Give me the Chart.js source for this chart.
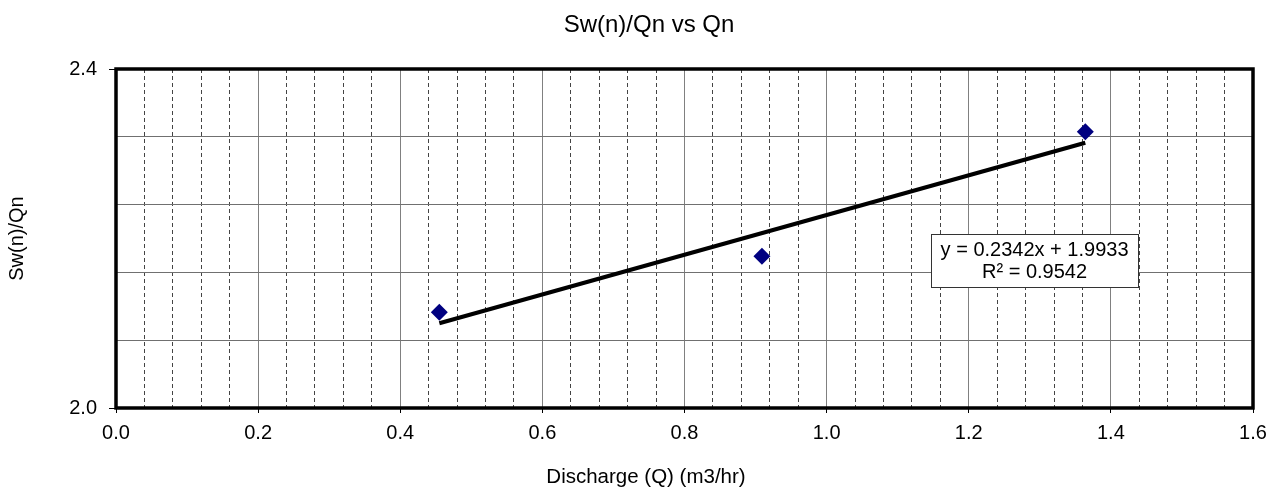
<!DOCTYPE html>
<html>
<head>
<meta charset="utf-8">
<script src="https://cdn.jsdelivr.net/npm/chart.js@4/dist/chart.umd.min.js"></script>
<style>
  html, body { margin: 0; padding: 0; background: #fff; }
  #wrap { width: 1271px; height: 487px; }
</style>
</head>
<body>
<div id="wrap"><canvas id="chart" width="1271" height="487"></canvas></div>
<script>
// data
const qValues = [0.455, 0.909, 1.364];
const swqValues = [2.113, 2.179, 2.326];
const trendX = [0.455, 1.364];
const trendY = [2.100, 2.313];

const xMin = 0, xMax = 1.6, xMinorStep = 0.04, xMajorStep = 0.2;
const yMin = 2.0, yMax = 2.4, yStep = 0.08;
const yLabelValues = [2.0, 2.4];

const chartTitle = 'Sw(n)/Qn vs Qn';
const xTitle = 'Discharge (Q) (m3/hr)';
const yTitle = 'Sw(n)/Qn';
const eqLines = ['y = 0.2342x + 1.9933', 'R\u00b2 = 0.9542'];
const eqAnchor = { x: 1.2926, y: 2.174 };

const FONT = '"Liberation Sans", Arial, sans-serif';

function isMajorX(v) {
    return Math.abs(Math.round(v / xMajorStep) * xMajorStep - v) < 1e-6;
}

// thick frame round the plot area
const plotFrame = {
    id: 'plotFrame',
    beforeDatasetsDraw(chart) {
        const a = chart.chartArea, c = chart.ctx;
        c.save();
        c.strokeStyle = '#000';
        c.lineWidth = 3.5;
        c.strokeRect(a.left, a.top, a.right - a.left, a.bottom - a.top);
        c.restore();
    }
};

// the excel titles sit a bit off the chart-area centre
const titles = {
    id: 'titles',
    afterDraw(chart) {
        const c = chart.ctx;
        c.save();
        c.fillStyle = '#000';
        c.textAlign = 'center';
        c.textBaseline = 'alphabetic';
        c.font = '24px ' + FONT;
        c.fillText(chartTitle, 649, 32);
        c.font = '20.5px ' + FONT;
        c.fillText(xTitle, 646, 483);
        c.restore();
    }
};

const eqBox = {
    id: 'eqBox',
    afterDatasetsDraw(chart) {
        const c = chart.ctx;
        const cx = chart.scales.x.getPixelForValue(eqAnchor.x);
        const cy = chart.scales.y.getPixelForValue(eqAnchor.y);
        c.save();
        c.font = '20px ' + FONT;
        const w = 207, h = 53;
        c.fillStyle = '#fff';
        c.fillRect(cx - w / 2, cy - h / 2, w, h);
        c.strokeStyle = '#333';
        c.lineWidth = 1;
        c.strokeRect(Math.round(cx - w / 2) + 0.5, Math.round(cy - h / 2) + 0.5, w, h);
        c.fillStyle = '#000';
        c.textAlign = 'center';
        c.textBaseline = 'middle';
        c.fillText(eqLines[0], cx, cy - 10);
        c.fillText(eqLines[1], cx, cy + 12);
        c.restore();
    }
};

const ctx = document.getElementById('chart').getContext('2d');
const chart = new Chart(ctx, {
    type: 'scatter',
    data: {
        datasets: [{
            label: 'Sw(n)/Qn',
            data: qValues.map((q, i) => ({ x: q, y: swqValues[i] })),
            pointStyle: 'rectRot',
            pointRadius: 8.5,
            pointHoverRadius: 8.5,
            backgroundColor: '#000080',
            borderColor: '#000080',
            borderWidth: 0,
            order: 1
        }, {
            label: 'Linear',
            type: 'line',
            data: trendX.map((q, i) => ({ x: q, y: trendY[i] })),
            borderColor: '#000',
            borderWidth: 4,
            pointRadius: 0,
            fill: false,
            order: 2
        }]
    },
    options: {
        responsive: false,
        animation: false,
        layout: { padding: { top: 69, right: 18, bottom: 0, left: 0 } },
        plugins: {
            legend: { display: false },
            tooltip: { enabled: false },
            title: { display: false }
        },
        scales: {
            x: {
                type: 'linear',
                min: xMin,
                max: xMax,
                afterFit: s => { s.height = 79; s.paddingLeft = 0; s.paddingRight = 0; },
                ticks: {
                    stepSize: xMinorStep,
                    autoSkip: false,
                    maxRotation: 0,
                    padding: 8,
                    color: '#000',
                    font: { family: FONT, size: 20 },
                    callback: v => isMajorX(v) ? v.toFixed(1) : ''
                },
                grid: {
                    color: c => isMajorX(c.tick.value) ? '#808080' : '#444',
                    lineWidth: 1,
                    tickLength: 5,
                    tickColor: c => (c.tick && isMajorX(c.tick.value)) ? '#000' : 'rgba(0,0,0,0)'
                },
                border: {
                    display: false,
                    dash: c => (c.tick && isMajorX(c.tick.value)) ? [] : [4, 3]
                }
            },
            y: {
                type: 'linear',
                min: yMin,
                max: yMax,
                afterFit: s => { s.width = 116; },
                ticks: {
                    stepSize: yStep,
                    autoSkip: false,
                    padding: 12,
                    color: '#000',
                    font: { family: FONT, size: 20 },
                    callback: v => yLabelValues.some(l => Math.abs(l - v) < 1e-6) ? v.toFixed(1) : ''
                },
                grid: {
                    color: '#707070',
                    lineWidth: 1,
                    tickLength: 7,
                    tickColor: c => (c.tick && yLabelValues.some(l => Math.abs(l - c.tick.value) < 1e-6)) ? '#000' : 'rgba(0,0,0,0)'
                },
                border: { display: false },
                title: {
                    display: true,
                    text: yTitle,
                    color: '#000',
                    font: { family: FONT, size: 20 },
                    padding: { top: 5, bottom: 0 }
                }
            }
        }
    },
    plugins: [plotFrame, eqBox, titles]
});
</script>
</body>
</html>
